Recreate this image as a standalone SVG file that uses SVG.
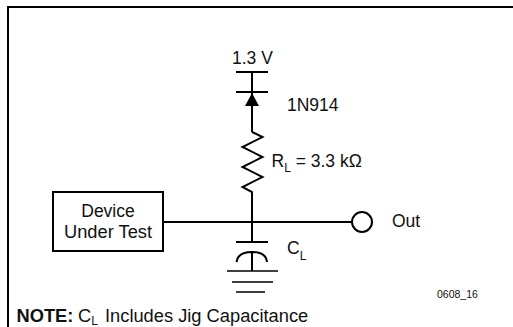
<svg xmlns="http://www.w3.org/2000/svg" width="513" height="327" viewBox="0 0 513 327">
<style>
text{font-family:"Liberation Sans",Arial,sans-serif;font-size:17.5px;fill:#111}
.w{fill:none;stroke:#000;stroke-width:2}
.g{fill:none;stroke:#000;stroke-width:1.5}
.s{font-size:12px}
.n{font-size:18.3px}
</style>
<rect width="513" height="327" fill="#fff"/>
<path id="frame" d="M8 327V7H513" fill="none" stroke="#000" stroke-width="2"/>
<g id="connectors">
<path class="w" d="M252 71V132M236 72H268M236 92H268"/>
<path d="M252 93L245 106H259Z" fill="#000"/>
<path class="w" d="M252 132L262.500 137L242.500 147L262.500 157L242.500 167L262.500 177L242.500 187L252 192V242"/>
<path class="w" d="M163 222H352"/>
<path class="w" d="M236 242H268M236.500 262Q238 252 252 252T267 262M252 252V271"/>
<path class="g" d="M227 271H278M232 282H273M236 292H265"/>
</g>
<g id="supply"><text x="232" y="64">1.3 V</text></g>
<g id="diode"><text x="287" y="111">1N914</text></g>
<g id="resistor"><text x="271.500" y="167">R<tspan class="s" dy="5">L</tspan><tspan dy="-5"> = 3.3 kΩ</tspan></text></g>
<g id="dut">
<rect x="53" y="192" width="110" height="59" fill="#fff" stroke="#000" stroke-width="2"/>
<text x="108" y="217" text-anchor="middle">Device</text>
<text x="108" y="238" text-anchor="middle" style="font-size:18.3px">Under Test</text>
</g>
<g id="out">
<circle cx="362" cy="222" r="10" fill="#fff" stroke="#000" stroke-width="2"/>
<text x="392" y="227">Out</text>
</g>
<g id="capacitor"><text x="287" y="254">C<tspan class="s" dy="6">L</tspan></text></g>
<text x="437" y="298" style="font-size:10.500px">0608_16</text>
<text x="16.500" y="322" class="n" font-weight="bold">NOTE:</text>
<text x="78" y="322" class="n">C<tspan class="s" dy="3">L</tspan></text>
<text x="105" y="322" class="n">Includes Jig Capacitance</text>
</svg>
